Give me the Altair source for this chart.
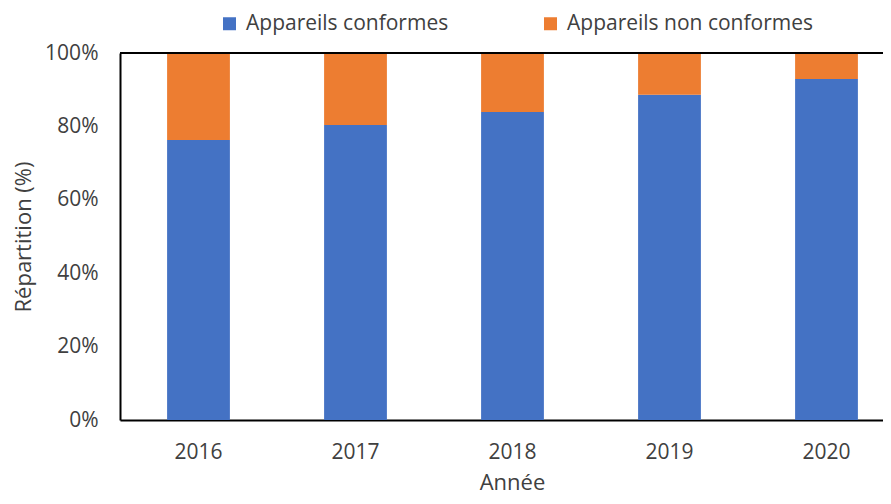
import altair as alt
import pandas as pd

years = ["2016", "2017", "2018", "2019", "2020"]
conformes = [76.3, 80.4, 83.9, 88.6, 92.9]
non_conformes = [23.7, 19.6, 16.1, 11.4, 7.1]
series = ["Appareils conformes", "Appareils non conformes"]
colors = ["#4472C4", "#ED7D31"]

rows = []
for i, yr in enumerate(years):
    rows.append({"Année": yr, "Série": series[0], "v": conformes[i], "o": 0})
    rows.append({"Année": yr, "Série": series[1], "v": non_conformes[i], "o": 1})
df = pd.DataFrame(rows)

FONT = "Open Sans"
TXT = "#404040"
W, H = 763, 367

bars = alt.Chart(df).mark_bar().encode(
    x=alt.X(
        "Année:N",
        sort=years,
        scale=alt.Scale(range=[0, 785], paddingInner=0.6, paddingOuter=0.3),
        axis=alt.Axis(
            title="Année", labelAngle=0, ticks=False, tickSize=0, labelPadding=32,
            labelBaseline="middle", domainColor="black", domainWidth=2,
            titleX=392, titleY=69, titleAlign="center", titleBaseline="alphabetic",
        ),
    ),
    y=alt.Y(
        "v:Q",
        stack="normalize",
        scale=alt.Scale(domain=[0, 1]),
        axis=alt.Axis(
            format=".0%", values=[0, 0.2, 0.4, 0.6, 0.8, 1], title="Répartition (%)",
            grid=False, ticks=False, tickSize=0, labelPadding=22,
            domainColor="black", domainWidth=2,
            titleAngle=270, titleX=-97, titleY=183.5, titleAlign="center",
            titleBaseline="middle",
        ),
    ),
    color=alt.Color(
        "Série:N",
        scale=alt.Scale(domain=series, range=colors),
        legend=alt.Legend(
            title=None, orient="none", direction="horizontal",
            legendX=99, legendY=-40, symbolType="square", symbolSize=169,
            symbolStrokeWidth=0, labelFontSize=21, labelFont=FONT, labelColor=TXT,
            columnPadding=91, labelOffset=6, labelLimit=400,
        ),
    ),
    order=alt.Order("o:Q"),
)

top = alt.Chart(pd.DataFrame({"t": [1]})).mark_rule(color="black", strokeWidth=2).encode(
    y=alt.datum(1), x=alt.value(0), x2=alt.value(785)
)

chart = alt.layer(bars, top).properties(
    width=W, height=H,
    autosize=alt.AutoSizeParams(type="none"),
    padding={"left": 112, "top": 45, "right": 0, "bottom": 76},
).configure_view(stroke=None).configure_axis(
    labelFont=FONT, labelFontSize=21, labelColor=TXT,
    titleFont=FONT, titleFontSize=22, titleColor=TXT, titleFontWeight="normal",
)

chart.save("out.html", embed_options={"renderer": "svg", "actions": False})
